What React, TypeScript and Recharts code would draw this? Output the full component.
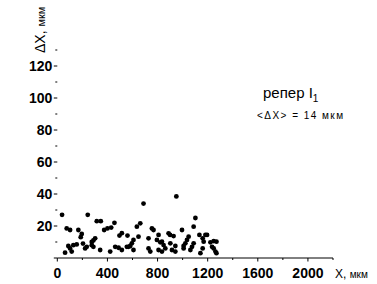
import React from "react";
import { ScatterChart, Scatter, XAxis, YAxis } from "recharts";

// position along the profile, µm
const xPos = [
  38, 62, 75, 88, 102, 102, 115, 128, 155, 168, 187, 195, 205, 222, 235, 243,
  275, 275, 288, 288, 302, 315, 342, 347, 374, 400, 422, 430, 456, 462, 489,
  496, 515, 515, 555, 560, 568, 582, 595, 608, 608, 635, 648, 662, 688, 728,
  728, 742, 755, 768, 795, 808, 808, 822, 835, 835, 848, 862, 888, 900, 902,
  915, 928, 942, 942, 950, 995, 1008, 1008, 1022, 1035, 1048, 1062, 1075, 1088,
  1088, 1102, 1134, 1142, 1160, 1160, 1168, 1182, 1195, 1222, 1235, 1248, 1248,
  1262, 1270, 1270,
];
// deviation ΔX, µm
const dX = [
  27, 3.3, 18.5, 7.5, 17.5, 6, 4, 8, 8.5, 17.5, 13, 15, 9, 6, 7, 27,
  10, 8, 11, 7, 12.3, 23, 5, 23, 17.5, 18.5, 4, 19, 22, 7, 6.4,
  14, 15.5, 5, 7, 14, 7, 7.5, 9.2, 11.3, 5, 19.6, 13.3, 21.7, 34, 12.3,
  6, 4, 18.5, 17.5, 11.3, 14.4, 5, 9.8, 10.2, 4, 8.1, 6, 15.4, 14.4, 9.2,
  5, 13.7, 7.5, 4, 38.5, 17.5, 7.5, 6, 9.2, 11.3, 13.3, 5, 7, 19.6,
  9.2, 25, 14.4, 3, 12.3, 6, 10.2, 14.4, 14.4, 9.8, 7, 10.6, 6,
  4, 10.2, 3,
];

const xTicks = [0, 200, 400, 600, 800, 1000, 1200, 1400, 1600, 1800, 2000, 2200];
const xLabeled = [0, 400, 800, 1200, 1600, 2000];
const yTicks = [0, 10, 20, 30, 40, 50, 60, 70, 80, 90, 100, 110, 120, 130];
const yLabeled = [20, 40, 60, 80, 100, 120];

const points = xPos.map((x, i) => ({ x, y: dX[i] }));

const font = "Arial, 'Liberation Sans', sans-serif";

function XTick(props: any) {
  const { x, y, payload } = props;
  const major = xLabeled.includes(payload.value);
  return (
    <g>
      <line x1={x} x2={x} y1={y} y2={y + (major ? 3.5 : 2)} stroke="#000" />
      {major && (
        <text x={x} y={y + 20} textAnchor="middle" fontFamily={font} fontSize={14} fontWeight="bold" fill="#000">
          {payload.value}
        </text>
      )}
    </g>
  );
}

function YTick(props: any) {
  const { x, y, payload } = props;
  const major = yLabeled.includes(payload.value) || payload.value === 0;
  return (
    <g>
      <line x1={x - (major ? 3.5 : 2)} x2={x} y1={y} y2={y} stroke="#000" />
      {yLabeled.includes(payload.value) && (
        <text x={x - 5} y={y} dy="0.36em" textAnchor="end" fontFamily={font} fontSize={14} fontWeight="bold" fill="#000">
          {payload.value}
        </text>
      )}
    </g>
  );
}

const Dot = (p: any) => <circle cx={p.cx} cy={p.cy} r={2.4} fill="#000" />;

export default function App() {
  return (
    <div style={{ position: "absolute", left: 0, top: 0, width: 377, height: 284, background: "#fff" }}>
      <ScatterChart width={377} height={284} margin={{ top: 50, right: 44, bottom: 0, left: 0 }}>
        <XAxis
          type="number"
          dataKey="x"
          domain={[0, 2200]}
          ticks={xTicks}
          interval={0}
          height={26}
          tickSize={0}
          tickMargin={0}
          tickLine={false}
          axisLine={{ stroke: "#000" }}
          tick={<XTick />}
        />
        <YAxis
          type="number"
          dataKey="y"
          domain={[0, 130]}
          ticks={yTicks}
          interval={0}
          width={57.3}
          tickSize={0}
          tickMargin={0}
          tickLine={false}
          axisLine={false}
          tick={<YTick />}
        />
        <Scatter data={points} shape={Dot} isAnimationActive={false} />
      </ScatterChart>
      <svg width={377} height={284} style={{ position: "absolute", left: 0, top: 0, pointerEvents: "none" }}>
        <text transform="translate(45,53) rotate(-90)" fontFamily={font} fill="#000">
          <tspan fontSize={14}>ΔX, </tspan>
          <tspan fontSize={11}>мкм</tspan>
        </text>
        <text x={335} y={278} fontFamily={font} fill="#000">
          <tspan fontSize={12}>X, </tspan>
          <tspan fontSize={10}>мкм</tspan>
        </text>
        <text x={263} y={98} fontFamily={font} fontSize={15} fill="#000">
          репер I<tspan fontSize={10} dy={4}>1</tspan>
        </text>
        <text x={257} y={119} fontFamily={font} fontSize={10} textLength={86} lengthAdjust="spacing" fill="#000">
          &lt;ΔX&gt; = 14 мкм
        </text>
      </svg>
    </div>
  );
}
